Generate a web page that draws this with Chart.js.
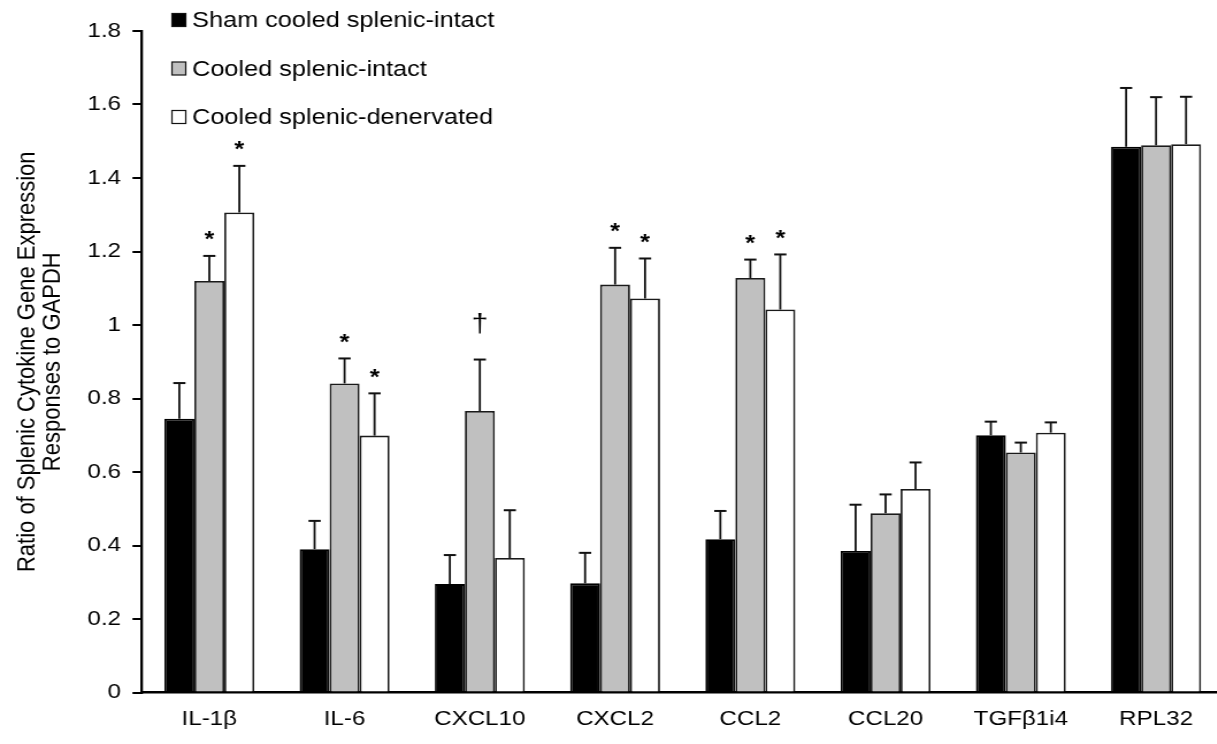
<!DOCTYPE html>
<html>
<head>
<meta charset="utf-8">
<script src="https://cdn.jsdelivr.net/npm/chart.js@4"></script>
<style>
    html, body { margin: 0; padding: 0; background: #fff; overflow: hidden; }
</style>
</head>
<body>
<!-- drawing is done on a narrower canvas and widened on screen -->
<canvas id="cytokineChart" width="1066" height="744" style="width: 1226px; height: 744px;"></canvas>
<script>
    var categories = ['IL-1β', 'IL-6', 'CXCL10', 'CXCL2', 'CCL2', 'CCL20', 'TGFβ1i4', 'RPL32'];

    var shamIntact = [0.745, 0.39, 0.295, 0.297, 0.417, 0.385, 0.70, 1.485];
    var shamIntactErr = [0.097, 0.077, 0.079, 0.083, 0.077, 0.126, 0.037, 0.16];

    var cooledIntact = [1.12, 0.841, 0.766, 1.11, 1.128, 0.488, 0.653, 1.489];
    var cooledIntactErr = [0.068, 0.068, 0.14, 0.10, 0.05, 0.051, 0.027, 0.131];

    var cooledDenervated = [1.306, 0.699, 0.366, 1.072, 1.042, 0.554, 0.707, 1.492];
    var cooledDenervatedErr = [0.127, 0.115, 0.13, 0.109, 0.15, 0.072, 0.028, 0.129];

    // significance marks above the error bars
    var shamMarks = ['', '', '', '', '', '', '', ''];
    var cooledMarks = ['*', '*', '†', '*', '*', '', '', ''];
    var denervatedMarks = ['*', '*', '', '*', '*', '', '', ''];

    var yTicks = [0, 0.2, 0.4, 0.6, 0.8, 1, 1.2, 1.4, 1.6, 1.8];

    var FONT = "'Liberation Sans', Arial, sans-serif";

    // Error bars (upper half only) and the * / † marks
    var errorBarPlugin = {
        id: 'errorBars',
        afterDatasetsDraw: function (chart) {
            var ctx = chart.ctx;
            var yScale = chart.scales.y;
            ctx.save();
            chart.data.datasets.forEach(function (ds, i) {
                var meta = chart.getDatasetMeta(i);
                meta.data.forEach(function (bar, j) {
                    var top = yScale.getPixelForValue(ds.data[j] + ds.errors[j]);
                    ctx.strokeStyle = '#111';
                    ctx.lineWidth = 1.8;
                    ctx.beginPath();
                    ctx.moveTo(bar.x, bar.y);
                    ctx.lineTo(bar.x, top);
                    ctx.stroke();
                    ctx.lineWidth = 2;
                    ctx.beginPath();
                    ctx.moveTo(bar.x - 5.3, top);
                    ctx.lineTo(bar.x + 5.3, top);
                    ctx.stroke();

                    var mark = ds.marks[j];
                    if (mark) {
                        ctx.fillStyle = '#000';
                        ctx.textAlign = 'center';
                        ctx.textBaseline = 'alphabetic';
                        if (mark === '*') {
                            ctx.font = 'bold 22px ' + FONT;
                            ctx.fillText(mark, bar.x, top - 9.5);
                        } else {
                            ctx.font = '26px ' + FONT;
                            ctx.fillText(mark, bar.x, top - 27.5);
                        }
                    }
                });
            });
            ctx.restore();
        }
    };

    // Legend stacked in the top left corner
    var legendPlugin = {
        id: 'stackedLegend',
        afterDraw: function (chart) {
            var ctx = chart.ctx;
            var rows = [20, 68.5, 117];
            ctx.save();
            ctx.font = '22px ' + FONT;
            ctx.textAlign = 'left';
            ctx.textBaseline = 'middle';
            chart.data.datasets.forEach(function (ds, i) {
                var y = rows[i];
                ctx.fillStyle = ds.backgroundColor;
                ctx.fillRect(149.5, y - 6.5, 12, 13);
                ctx.strokeStyle = '#111';
                ctx.lineWidth = 1.2;
                ctx.strokeRect(149.5, y - 6.5, 12, 13);
                ctx.fillStyle = '#000';
                ctx.fillText(ds.label, 167, y + 1);
            });
            ctx.restore();
        }
    };

    var canvas = document.getElementById('cytokineChart');

    new Chart(canvas.getContext('2d'), {
        type: 'bar',
        data: {
            labels: categories,
            datasets: [
                {
                    label: 'Sham cooled splenic-intact',
                    data: shamIntact,
                    errors: shamIntactErr,
                    marks: shamMarks,
                    backgroundColor: '#000000',
                    borderColor: '#000000',
                    borderWidth: 1.8
                },
                {
                    label: 'Cooled splenic-intact',
                    data: cooledIntact,
                    errors: cooledIntactErr,
                    marks: cooledMarks,
                    backgroundColor: '#c0c0c0',
                    borderColor: '#1a1a1a',
                    borderWidth: 1.8
                },
                {
                    label: 'Cooled splenic-denervated',
                    data: cooledDenervated,
                    errors: cooledDenervatedErr,
                    marks: denervatedMarks,
                    backgroundColor: '#ffffff',
                    borderColor: '#1a1a1a',
                    borderWidth: 1.8
                }
            ]
        },
        options: {
            responsive: false,
            animation: false,
            categoryPercentage: 0.665,
            barPercentage: 1.0,
            layout: {
                padding: { left: 0, top: 31, right: 2, bottom: 0 }
            },
            plugins: {
                legend: { display: false },
                tooltip: { enabled: false }
            },
            scales: {
                x: {
                    grid: { display: false, drawTicks: false },
                    border: { display: true, color: '#000', width: 2.6 },
                    ticks: {
                        color: '#000',
                        padding: 14,
                        font: { family: FONT, size: 21 }
                    },
                    afterFit: function (scale) {
                        scale.height = 51.5;
                    }
                },
                y: {
                    min: 0,
                    max: 1.8,
                    afterBuildTicks: function (scale) {
                        scale.ticks = yTicks.map(function (v) { return { value: v }; });
                    },
                    grid: {
                        drawOnChartArea: false,
                        drawTicks: true,
                        tickLength: 8,
                        color: '#000',
                        lineWidth: 2
                    },
                    border: { display: true, color: '#000', width: 2.3 },
                    ticks: {
                        color: '#000',
                        padding: 10,
                        font: { family: FONT, size: 21 },
                        callback: function (v) { return String(+v.toFixed(1)); }
                    },
                    title: {
                        display: true,
                        text: ['Ratio of Splenic Cytokine Gene Expression', 'Responses to GAPDH'],
                        color: '#000',
                        font: { family: FONT, size: 22, lineHeight: 1.0 },
                        padding: { top: 13, bottom: 0 }
                    },
                    afterFit: function (scale) {
                        scale.width = 123.2;
                    }
                }
            }
        },
        plugins: [errorBarPlugin, legendPlugin]
    });
</script>
</body>
</html>
